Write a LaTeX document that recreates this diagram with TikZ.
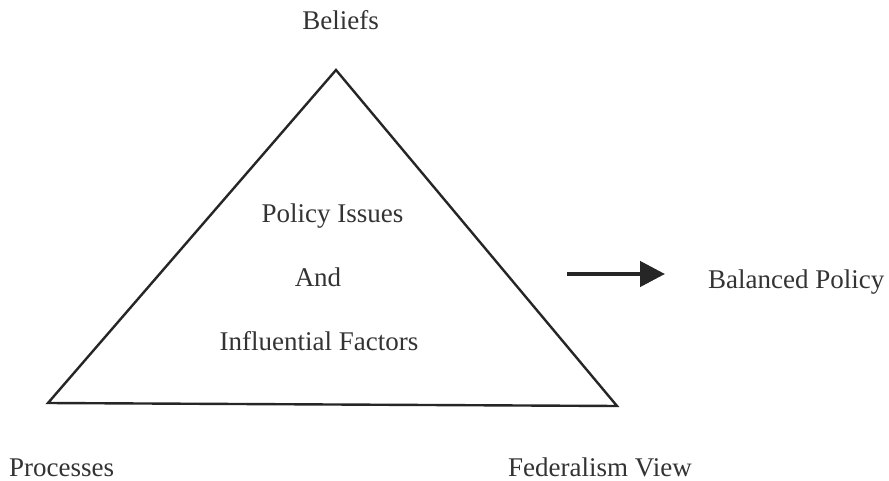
\documentclass[tikz,border=0pt]{standalone}
\usepackage{fontspec}
\setmainfont{Liberation Serif}
\usetikzlibrary{arrows.meta}
\tikzset{>=latex}

\begin{document}
\begin{tikzpicture}[x=1pt,y=-1pt,
    label/.style={inner sep=0pt,anchor=base,font=\fontsize{27}{32}\selectfont,text=black!80}
  ]
  \useasboundingbox (0,0) rectangle (889,481);

  % triangle corners
  \coordinate (top) at (336,70);
  \coordinate (left) at (48,403);
  \coordinate (right) at (617,406);
  \draw[line width=2.4pt,line join=miter,black!85] (top) -- (left) -- (right) -- cycle;

  % corner labels
  \node[label] (beliefs) at (340.5,30) {Beliefs};
  \node[label,anchor=base west,text depth=0pt] (processes) at (9,476) {Processes};
  \node[label,anchor=base west,text depth=0pt] (federal) at (508,476) {Federalism View};

  % text inside
  \node[label] (issues) at (332.5,223) {Policy Issues};
  \node[label] (and) at (318,287) {And};
  \node[label] (factors) at (319,350) {Influential Factors};

  % outcome
  \node[label,anchor=base west] (balanced) at (708,288) {Balanced Policy};
  \coordinate (start) at (567,274);
  \coordinate (tip) at (665,274);
  \draw[line width=4.5pt,black!85,-{Triangle[length=25pt,width=25pt]}] (start) -- (tip);

\end{tikzpicture}
\end{document}
